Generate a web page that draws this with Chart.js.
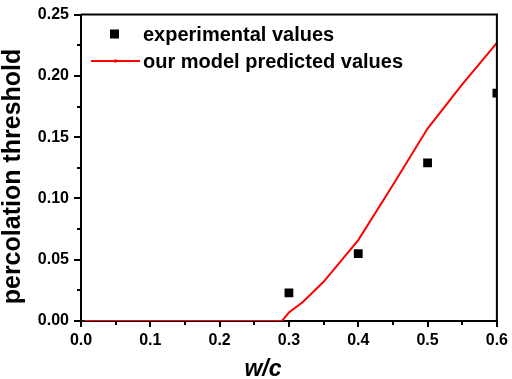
<!DOCTYPE html>
<html>
<head>
<meta charset="utf-8">
<script src="https://cdn.jsdelivr.net/npm/chart.js@4/dist/chart.umd.min.js"></script>
<style>
  html, body { margin: 0; padding: 0; background: #fff; }
  #wrap { width: 512px; height: 379px; }
</style>
</head>
<body>
<div id="wrap"><canvas id="c" width="512" height="379"></canvas></div>
<script>
// ---- data ----
const expX = [0.3, 0.4, 0.5, 0.6];
const expY = [0.023, 0.055, 0.129, 0.186];
const modelX = [0.005, 0.29, 0.30, 0.32, 0.35, 0.40, 0.45, 0.50, 0.55, 0.60];
const modelY = [0, 0, 0.007, 0.0155, 0.032, 0.066, 0.111, 0.157, 0.193, 0.227];
const xTicks = [0.0, 0.1, 0.2, 0.3, 0.4, 0.5, 0.6];
const yTicks = [0.00, 0.05, 0.10, 0.15, 0.20, 0.25];
const seriesNames = ['experimental values', 'our model predicted values'];
const xTitle = 'w/c';
const yTitle = 'percolation threshold';

const FONT = '"Liberation Sans", Arial, sans-serif';

const decorPlugin = {
  id: 'decor',
  afterDatasetsDraw(chart) {
    const ctx = chart.ctx;
    const a = chart.chartArea;
    const xs = chart.scales.x, ys = chart.scales.y;
    ctx.save();
    ctx.strokeStyle = '#000';
    ctx.lineWidth = 2;
    ctx.beginPath();
    ctx.moveTo(a.left, a.top);
    ctx.lineTo(a.right, a.top);
    ctx.lineTo(a.right, a.bottom);
    ctx.stroke();
    // minor ticks
    ctx.lineWidth = 2;
    ctx.beginPath();
    for (let i = 0; i < xTicks.length - 1; i++) {
      const v = (xTicks[i] + xTicks[i + 1]) / 2;
      const px = Math.round(xs.getPixelForValue(v));
      ctx.moveTo(px, a.bottom);
      ctx.lineTo(px, a.bottom + 4);
    }
    for (let i = 0; i < yTicks.length - 1; i++) {
      const v = (yTicks[i] + yTicks[i + 1]) / 2;
      const py = Math.round(ys.getPixelForValue(v));
      ctx.moveTo(a.left, py);
      ctx.lineTo(a.left - 4, py);
    }
    ctx.stroke();

    // legend
    ctx.fillStyle = '#000';
    ctx.fillRect(110, 29.5, 9, 9);
    ctx.strokeStyle = '#ff0000';
    ctx.lineWidth = 2;
    ctx.beginPath();
    ctx.moveTo(91, 61);
    ctx.lineTo(140, 61);
    ctx.stroke();
    ctx.fillStyle = '#ff0000';
    ctx.beginPath();
    ctx.arc(115.5, 61, 1.8, 0, Math.PI * 2);
    ctx.fill();
    ctx.fillStyle = '#000';
    ctx.font = 'bold 20px ' + FONT;
    ctx.textAlign = 'left';
    ctx.textBaseline = 'alphabetic';
    ctx.fillText(seriesNames[0], 143, 41);
    ctx.fillText(seriesNames[1], 143, 68);

    // axis titles
    ctx.font = 'bold 25px ' + FONT;
    ctx.save();
    ctx.translate(20, 176.5);
    ctx.rotate(-Math.PI / 2);
    ctx.textAlign = 'center';
    ctx.fillText(yTitle, 0, 0);
    ctx.restore();
    ctx.font = 'italic bold 23px ' + FONT;
    ctx.textAlign = 'center';
    ctx.fillText(xTitle, 263, 376);
    ctx.restore();
  }
};

new Chart(document.getElementById('c'), {
  type: 'scatter',
  data: {
    datasets: [
      {
        label: seriesNames[0],
        data: expX.map((x, i) => ({ x: x, y: expY[i] })),
        pointStyle: 'rect',
        pointRadius: 6.2,
        backgroundColor: '#000',
        borderColor: '#000',
        borderWidth: 0,
        showLine: false
      },
      {
        label: seriesNames[1],
        data: modelX.map((x, i) => ({ x: x, y: modelY[i] })),
        showLine: true,
        borderColor: '#ff0000',
        borderWidth: 2,
        pointRadius: 0,
        tension: 0,
        fill: false
      }
    ]
  },
  options: {
    responsive: false,
    animation: false,
    devicePixelRatio: 1,
    layout: { padding: { top: 10, right: 14, left: 0, bottom: 0 } },
    plugins: { legend: { display: false }, tooltip: { enabled: false } },
    scales: {
      x: {
        type: 'linear',
        min: 0, max: 0.6,
        afterFit(s) { s.height = 58; },
        afterBuildTicks(s) { s.ticks = xTicks.map(v => ({ value: v })); },
        ticks: {
          font: { family: FONT, size: 16, weight: 'bold' },
          color: '#000',
          padding: 4,
          maxRotation: 0,
          callback: v => Number(v).toFixed(1)
        },
        grid: { drawOnChartArea: false, drawTicks: true, tickLength: 6, color: '#000', lineWidth: 2 },
        border: { display: true, color: '#000', width: 2 }
      },
      y: {
        type: 'linear',
        min: 0, max: 0.25,
        afterFit(s) { s.width = 81; },
        afterBuildTicks(s) { s.ticks = yTicks.map(v => ({ value: v })); },
        ticks: {
          font: { family: FONT, size: 16, weight: 'bold' },
          color: '#000',
          padding: 5,
          callback: v => Number(v).toFixed(2)
        },
        grid: { drawOnChartArea: false, drawTicks: true, tickLength: 7, color: '#000', lineWidth: 2 },
        border: { display: true, color: '#000', width: 2 }
      }
    }
  },
  plugins: [decorPlugin]
});
</script>
</body>
</html>
